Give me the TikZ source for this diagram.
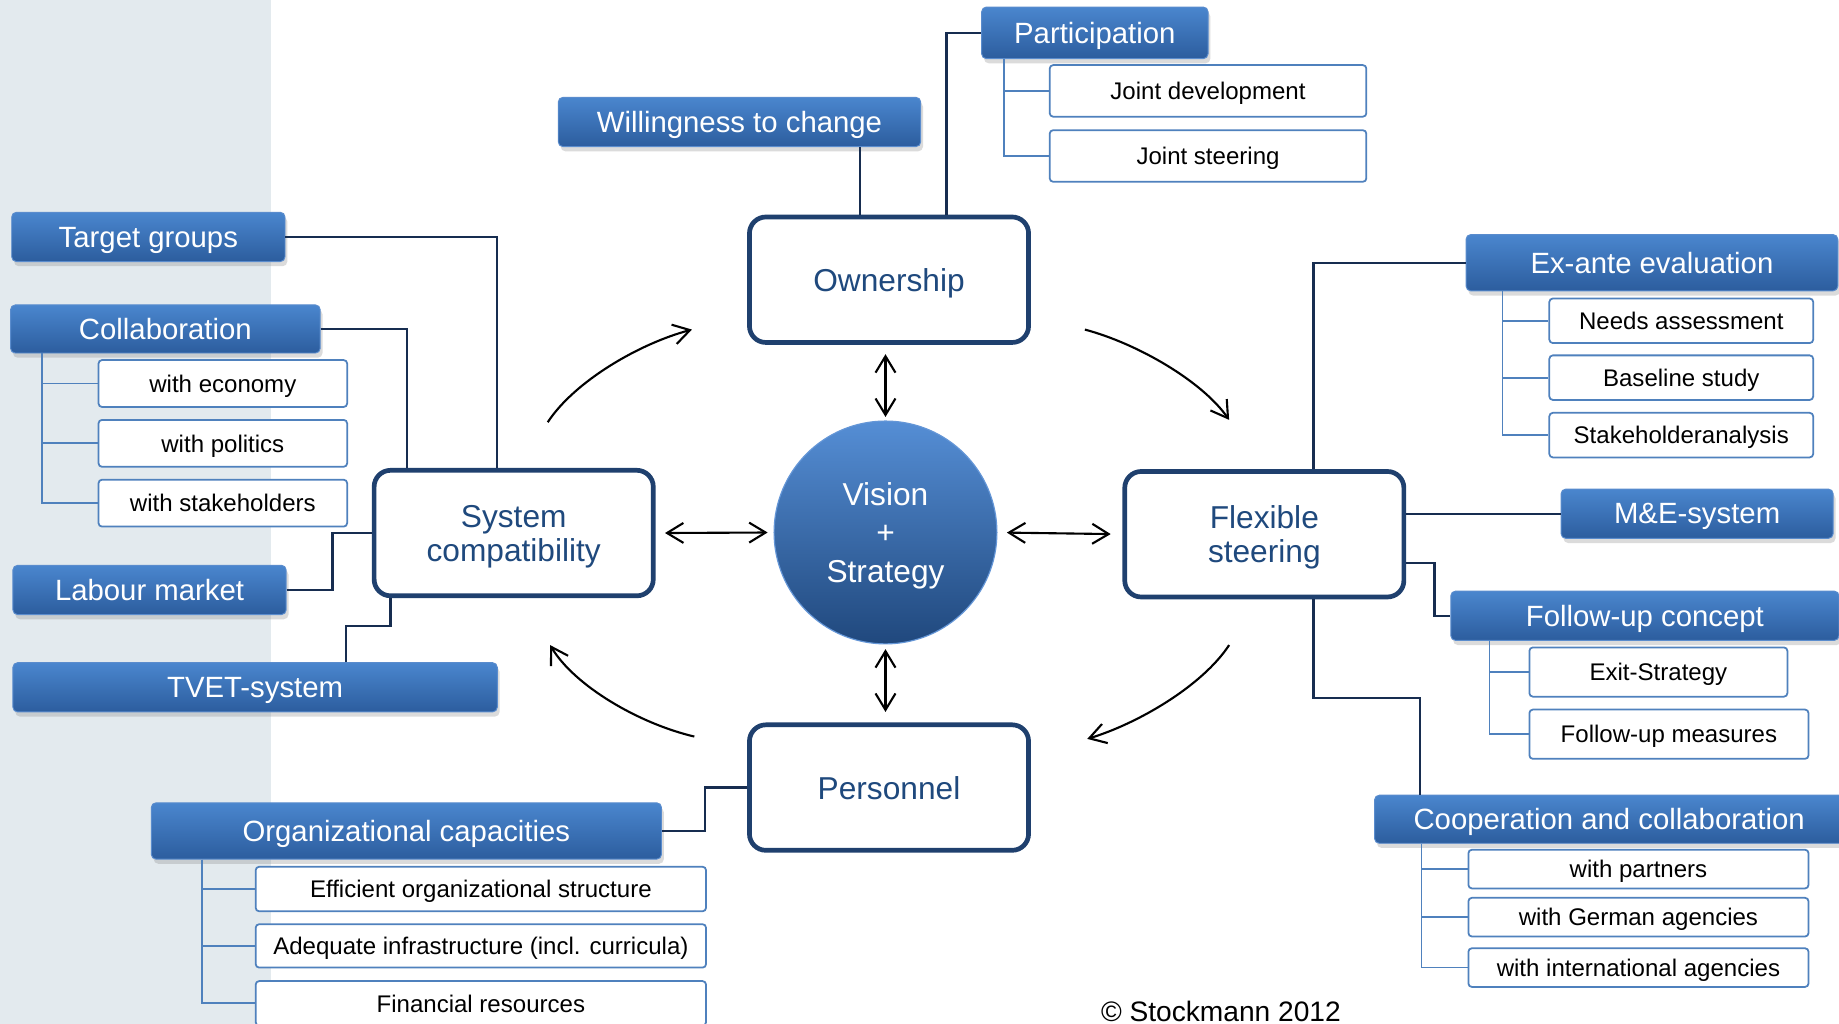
\documentclass[tikz,border=0pt]{standalone}
\usepackage{fontspec}
\setmainfont{Liberation Sans}
\usetikzlibrary{arrows.meta,shadows,calc}

\definecolor{panel}{RGB}{227,234,238}
\definecolor{hdtop}{RGB}{74,134,206}
\definecolor{hdbot}{RGB}{44,93,158}
\definecolor{hdline}{RGB}{90,140,205}
\definecolor{subline}{RGB}{79,129,189}
\definecolor{navy}{RGB}{31,64,110}
\definecolor{navytext}{RGB}{31,73,125}
\definecolor{conncol}{RGB}{23,45,80}
\definecolor{circtop}{RGB}{85,142,213}
\definecolor{circbot}{RGB}{32,72,125}
\definecolor{circline}{RGB}{100,150,215}

\newcommand\hdrfont{\fontsize{25}{30}\selectfont}
\newcommand\subfont{\fontsize{20.5}{24}\selectfont}
\newcommand\boxfont{\fontsize{27}{29}\selectfont}
\newcommand\visfont{\fontsize{27}{33}\selectfont}
\newcommand\copyfont{\fontsize{24}{28}\selectfont}

\tikzset{
 hdr/.style={rectangle, rounded corners=4pt, top color=hdtop, bottom color=hdbot, draw=hdline, line width=0.8pt, text=white, font=\hdrfont, inner sep=0pt, text depth=0pt, drop shadow={opacity=0.28, shadow xshift=2pt, shadow yshift=-4pt}},
 sub/.style={rectangle, rounded corners=3pt, fill=white, draw=subline, line width=1.5pt, text=black, font=\subfont, inner sep=0pt, text depth=0pt},
 mainbox/.style={rectangle, rounded corners=14pt, fill=white, draw=navy, line width=4pt, text=navytext, font=\boxfont, align=center, inner sep=0pt, text depth=0pt, minimum width=238pt, minimum height=107pt},
 conn/.style={draw=conncol, line width=2pt},
 tree/.style={draw=subline, line width=1.5pt},
 dbl/.style={draw=black, line width=1.8pt, {Straight Barb[length=14pt,width=17pt]}-{Straight Barb[length=14pt,width=17pt]}},
 cyc/.style={draw=black, line width=1.8pt, -{Straight Barb[length=14pt,width=17pt]}},
}

\begin{document}
\begin{tikzpicture}[x=1pt,y=-1pt]
\useasboundingbox (0,0) rectangle (1568,873);
\clip (0,0) rectangle (1568,873);
\fill[white] (0,0) rectangle (1568,873);
\fill[panel] (0,0) rectangle (231,873);

% header boxes
\node[hdr, minimum width=193pt, minimum height=44pt] (part) at (933.5,28) {Participation};
\node[hdr, minimum width=309pt, minimum height=42pt] (will) at (630.5,104) {Willingness to change};
\node[hdr, minimum width=233pt, minimum height=42pt] (tg) at (126.5,202) {Target groups};
\node[hdr, minimum width=264pt, minimum height=41pt] (coll) at (141,280.5) {Collaboration};
\node[hdr, minimum width=233pt, minimum height=42pt] (lab) at (127.5,503) {Labour market};
\node[hdr, minimum width=413pt, minimum height=42pt] (tvet) at (217.5,586) {TVET-system};
\node[hdr, minimum width=317pt, minimum height=48pt] (exante) at (1408.5,224) {Ex-ante evaluation};
\node[hdr, minimum width=232pt, minimum height=42pt] (me) at (1447,438) {M\&E-system};
\node[hdr, minimum width=331pt, minimum height=42pt] (fu) at (1402.5,525) {Follow-up concept};
\node[hdr, minimum width=400pt, minimum height=41pt] (coop) at (1372,698.5) {Cooperation and collaboration};
\node[hdr, minimum width=435pt, minimum height=48pt] (org) at (346.5,708.5) {Organizational capacities};

% sub boxes
\node[sub, minimum width=270pt, minimum height=44pt] (jd) at (1030,77.5) {Joint development};
\node[sub, minimum width=270pt, minimum height=44pt] (js) at (1030,133) {Joint steering};
\node[sub, minimum width=212pt, minimum height=40pt] (we) at (190,327) {with economy};
\node[sub, minimum width=212pt, minimum height=40pt] (wp) at (190,378) {with politics};
\node[sub, minimum width=212pt, minimum height=40pt] (ws) at (190,429) {with stakeholders};
\node[sub, minimum width=225pt, minimum height=38pt] (na) at (1433.5,273.5) {Needs assessment};
\node[sub, minimum width=225pt, minimum height=38pt] (bs) at (1433.5,322) {Baseline study};
\node[sub, minimum width=225pt, minimum height=38pt] (sa) at (1433.5,371) {Stakeholderanalysis};
\node[sub, minimum width=220pt, minimum height=42pt] (ex) at (1414,573) {Exit-Strategy};
\node[sub, minimum width=238pt, minimum height=42pt] (fm) at (1423,626) {Follow-up measures};
\node[sub, minimum width=290pt, minimum height=33pt] (wpa) at (1397,741) {with partners};
\node[sub, minimum width=290pt, minimum height=33pt] (wge) at (1397,782) {with German agencies};
\node[sub, minimum width=290pt, minimum height=33pt] (win) at (1397,825) {with international agencies};
\node[sub, minimum width=384pt, minimum height=38pt] (eff) at (410,758) {Efficient organizational structure};
\node[sub, minimum width=384pt, minimum height=37pt] (adq) at (410,806.5) {Adequate infrastructure (incl. curricula)};
\node[sub, minimum width=384pt, minimum height=38pt] (fin) at (410,855.5) {Financial resources};

% main boxes
\node[mainbox] (own) at (758,238.5) {Ownership};
\node[mainbox] (sys) at (438,454.5) {System\\compatibility};
\node[mainbox] (flex) at (1078,455.5) {Flexible\\steering};
\node[mainbox] (pers) at (758,671.5) {Personnel};

\node[circle, minimum size=190pt, inner sep=0pt, top color=circtop, bottom color=circbot, draw=circline, line width=1pt, text=white, font=\visfont, align=center, text depth=0pt] (vis) at (755,454) {Vision\\+\\Strategy};

% connectors
\draw[conn] (tg.east) -| ([xshift=-14pt]sys.north);
\draw[conn] (coll.east) -| ([xshift=-91pt]sys.north);
\draw[conn] (lab.east) -- ++(39,0) |- (sys.west);
\draw[conn] ([xshift=77.5pt]tvet.north) |- ++(38,-31) -- ([xshift=-105pt]sys.south);
\draw[conn] ([xshift=102.5pt]will.south) -- ([xshift=-25pt]own.north);
\draw[conn] (part.west) -| ([xshift=49pt]own.north);
\draw[conn] (pers.west) -- ++(-36,0) |- (org.east);
\draw[conn] (exante.west) -| ([xshift=42pt]flex.north);
\draw[conn] (me.west -| flex.east) -- (me.west);
\draw[conn] ([yshift=-24.5pt]flex.east) -- ++(24,0) |- (fu.west);
\draw[conn] ([xshift=42pt]flex.south) |- ++(91,84) -- ([xshift=-161pt]coop.north);

% trees
\foreach \n in {jd,js} \draw[tree] ([xshift=-77.5pt]part.south) |- (\n.west);
\foreach \n in {we,wp,ws} \draw[tree] ([xshift=-105.5pt]coll.south) |- (\n.west);
\foreach \n in {na,bs,sa} \draw[tree] ([xshift=-127.5pt]exante.south) |- (\n.west);
\foreach \n in {ex,fm} \draw[tree] ([xshift=-132.5pt]fu.south) |- (\n.west);
\foreach \n in {wpa,wge,win} \draw[tree] ([xshift=-160pt]coop.south) |- (\n.west);
\foreach \n in {eff,adq,fin} \draw[tree] ([xshift=-174.5pt]org.south) |- (\n.west);

% double arrows
\draw[dbl, shorten <=8pt, shorten >=3pt] (own.south -| vis.north) -- (vis.north);
\draw[dbl, shorten <=4pt, shorten >=9pt] (vis.south) -- (pers.north -| vis.south);
\draw[dbl, shorten <=8pt, shorten >=5pt] (sys.east) -- (vis.west);
\draw[dbl, shorten <=8pt, shorten >=10pt] (vis.east) -- (flex.west);

% cycle arrows
\draw[cyc] (467,360) .. controls (490,325) and (545,293) .. (590,281);
\draw[cyc] (925,281) .. controls (970,293) and (1025,325) .. (1048,358);
\draw[cyc] (1048,550) .. controls (1025,585) and (970,617) .. (927,630);
\draw[cyc] (592,628) .. controls (545,617) and (490,585) .. (469,550);

\node[font=\copyfont, inner sep=0pt] (copy) at (1041,862) {© Stockmann 2012};
\end{tikzpicture}
\end{document}
